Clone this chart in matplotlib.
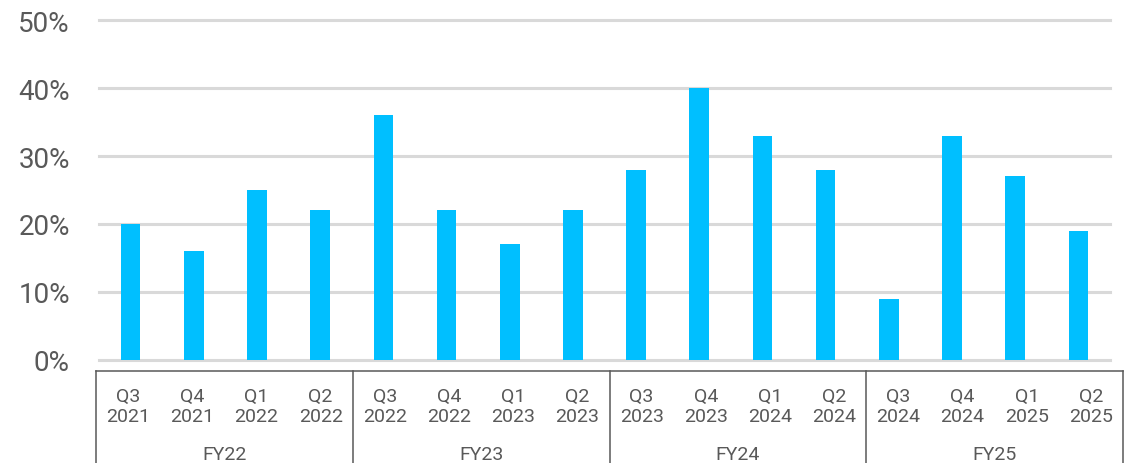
import matplotlib.pyplot as plt
import numpy as np

quarters = ['Q3\n2021', 'Q4\n2021', 'Q1\n2022', 'Q2\n2022',
            'Q3\n2022', 'Q4\n2022', 'Q1\n2023', 'Q2\n2023',
            'Q3\n2023', 'Q4\n2023', 'Q1\n2024', 'Q2\n2024',
            'Q3\n2024', 'Q4\n2024', 'Q1\n2025', 'Q2\n2025']
values = [20, 16, 25, 22, 36, 22, 17, 22, 28, 40, 33, 28, 9, 33, 27, 19]
fiscal_years = ['FY22', 'FY23', 'FY24', 'FY25']
yticks = [0, 10, 20, 30, 40, 50]

plt.rcParams['font.family'] = ['Roboto', 'DejaVu Sans']
W, H = 1142, 464
fig = plt.figure(figsize=(W / 100, H / 100), dpi=100)

grey = '#595959'
ax = fig.add_axes([99 / W, (H - 361) / H, (1110 - 99) / W, (361 - 21) / H])
x = np.arange(len(values))
ax.bar(x, values, width=0.31, color='#00BFFF', zorder=3)
ax.set_xlim(-0.5, len(values) - 0.5)
ax.set_ylim(0, 50)
ax.set_yticks(yticks)
ax.set_yticklabels([f'{v}%' for v in yticks], fontsize=20, color=grey)
ax.tick_params(axis='y', length=0, pad=21)
ax.set_xticks([])
for v in yticks:
    ax.axhline(v, color='#d9d9d9', lw=2.2, zorder=1, clip_on=False)
for s in ax.spines.values():
    s.set_visible(False)

# tableau des trimestres / exercices
tab = fig.add_axes([96 / W, 0, (1123 - 96) / W, (H - 372) / H])
tab.set_xlim(0, 16)
tab.set_ylim(0, 1)
tab.axis('off')
tab.plot([0, 16], [1, 1], color=grey, lw=1.1, clip_on=False)
for k in range(0, 17, 4):
    tab.plot([k, k], [0, 1], color=grey, lw=1.1, clip_on=False)
for i, q in enumerate(quarters):
    tab.text(i + 0.5, 0.62, q, ha='center', va='center', fontsize=14,
             color=grey, linespacing=1.1)
for j, fy in enumerate(fiscal_years):
    tab.text(j * 4 + 2, 0.1, fy, ha='center', va='center', fontsize=14, color=grey)

fig.savefig('out.png', dpi=100)
